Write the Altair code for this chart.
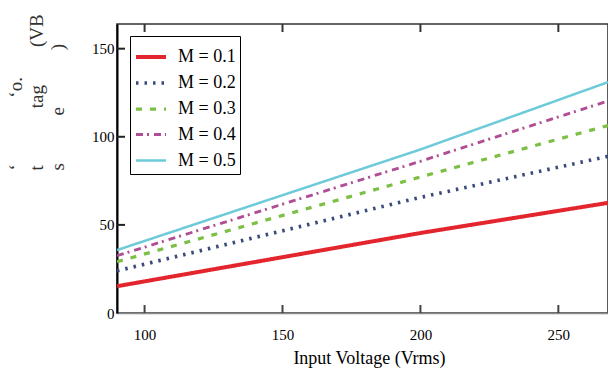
import altair as alt
import pandas as pd

# ---- data ----
series = ["M = 0.1", "M = 0.2", "M = 0.3", "M = 0.4", "M = 0.5"]
vin_points = [90, 200, 268]
vout_m01 = [15.2, 45.4, 62.5]
vout_m02 = [23.9, 65.6, 88.9]
vout_m03 = [29.1, 77.2, 106.4]
vout_m04 = [32.5, 86.1, 120.3]
vout_m05 = [35.7, 92.8, 131.0]
x_ticks = [100, 150, 200, 250]
y_ticks = [0, 50, 100, 150]
y_inner_ticks = [50, 100, 150]

# ---- styles ----
colors = ["#e3262d", "#3a4a7a", "#7cbf45", "#b04e95", "#6dcad8"]
dashes = [[1, 0], [2.5, 6], [6, 8], [7, 4, 2, 5], [1, 0]]
widths = [4, 2.5, 4, 3.5, 3.5]
SERIF = "Liberation Serif"
NB = "\u00a0"
W, H = 491, 289

all_vals = [vout_m01, vout_m02, vout_m03, vout_m04, vout_m05]
rows = []
for name, vals in zip(series, all_vals):
    for xv, yv in zip(vin_points, vals):
        rows.append({"series": name, "vin": xv, "vout": yv})
df = pd.DataFrame(rows)
xt_data = alt.Data(values=[{"vin": v} for v in x_ticks])
yt_data = alt.Data(values=[{"vout": v} for v in y_inner_ticks])

xs = alt.Scale(domain=[90, 268], nice=False, zero=False)
ys = alt.Scale(domain=[0, 164], nice=False, zero=False)

pad = NB * 15
leg = alt.Legend(title=None, labelExpr=f"datum.label + '{pad}'")

main = alt.Chart(df).mark_line(clip=True).encode(
    x=alt.X("vin:Q", scale=xs, axis=alt.Axis(
        orient="bottom", values=x_ticks, ticks=False, tickSize=0, grid=False,
        domain=True, domainColor="#8a8a8a", domainWidth=1.6,
        labelFont=SERIF, labelFontSize=15, labelColor="black", labelPadding=14,
        title="Input Voltage (Vrms)", titleFont=SERIF, titleFontSize=18,
        titleFontWeight="normal", titleColor="black", titlePadding=7, titleX=252)),
    y=alt.Y("vout:Q", scale=ys, axis=alt.Axis(
        orient="left", values=y_ticks, ticks=False, tickSize=0, grid=False,
        domain=True, domainColor="black", domainWidth=2,
        labelFont=SERIF, labelFontSize=15, labelColor="black", labelPadding=3,
        title=["\u2018" + NB * 14 + "\u2018o.",
               "t" + NB * 12 + "tag" + NB * 8 + "(VB",
               "s" + NB * 10 + "e" + NB * 12 + ")"],
        titleFont=SERIF, titleFontSize=19, titleFontWeight="normal", titleColor="#333",
        titleAngle=270, titleAlign="left", titleBaseline="middle",
        titleX=-102, titleY=146, titleLineHeight=21)),
    color=alt.Color("series:N", scale=alt.Scale(domain=series, range=colors), legend=leg),
    strokeDash=alt.StrokeDash("series:N", scale=alt.Scale(domain=series, range=dashes), legend=leg),
    strokeWidth=alt.StrokeWidth("series:N", scale=alt.Scale(domain=series, range=widths), legend=leg),
)

# inward tick marks (Mathcad style)
bottom_ticks = alt.Chart(xt_data).mark_rule(color="#444", strokeWidth=2).encode(
    x=alt.X("vin:Q"), y=alt.value(H), y2=alt.value(H - 8)
)
top_ticks = alt.Chart(xt_data).mark_rule(color="#333", strokeWidth=2).encode(
    x=alt.X("vin:Q"), y=alt.value(0), y2=alt.value(8)
)
left_ticks = alt.Chart(yt_data).mark_rule(color="#222", strokeWidth=2).encode(
    y=alt.Y("vout:Q"), x=alt.value(0), x2=alt.value(8)
)

chart = alt.layer(main, bottom_ticks, top_ticks, left_ticks).properties(
    width=W, height=H,
    autosize=alt.AutoSizeParams(type="none"),
    padding={"left": 117, "top": 24, "right": 0, "bottom": 56},
    background="white",
).configure_view(stroke="#333", strokeWidth=1.6).configure_legend(
    orient="none", legendX=13, legendY=12,
    strokeColor="black", padding=4,
    symbolType="stroke", symbolSize=900, rowPadding=0,
    labelFont=SERIF, labelFontSize=18, labelColor="black", labelOffset=10,
)

chart.save("out.html", embed_options={"renderer": "svg", "actions": False})
